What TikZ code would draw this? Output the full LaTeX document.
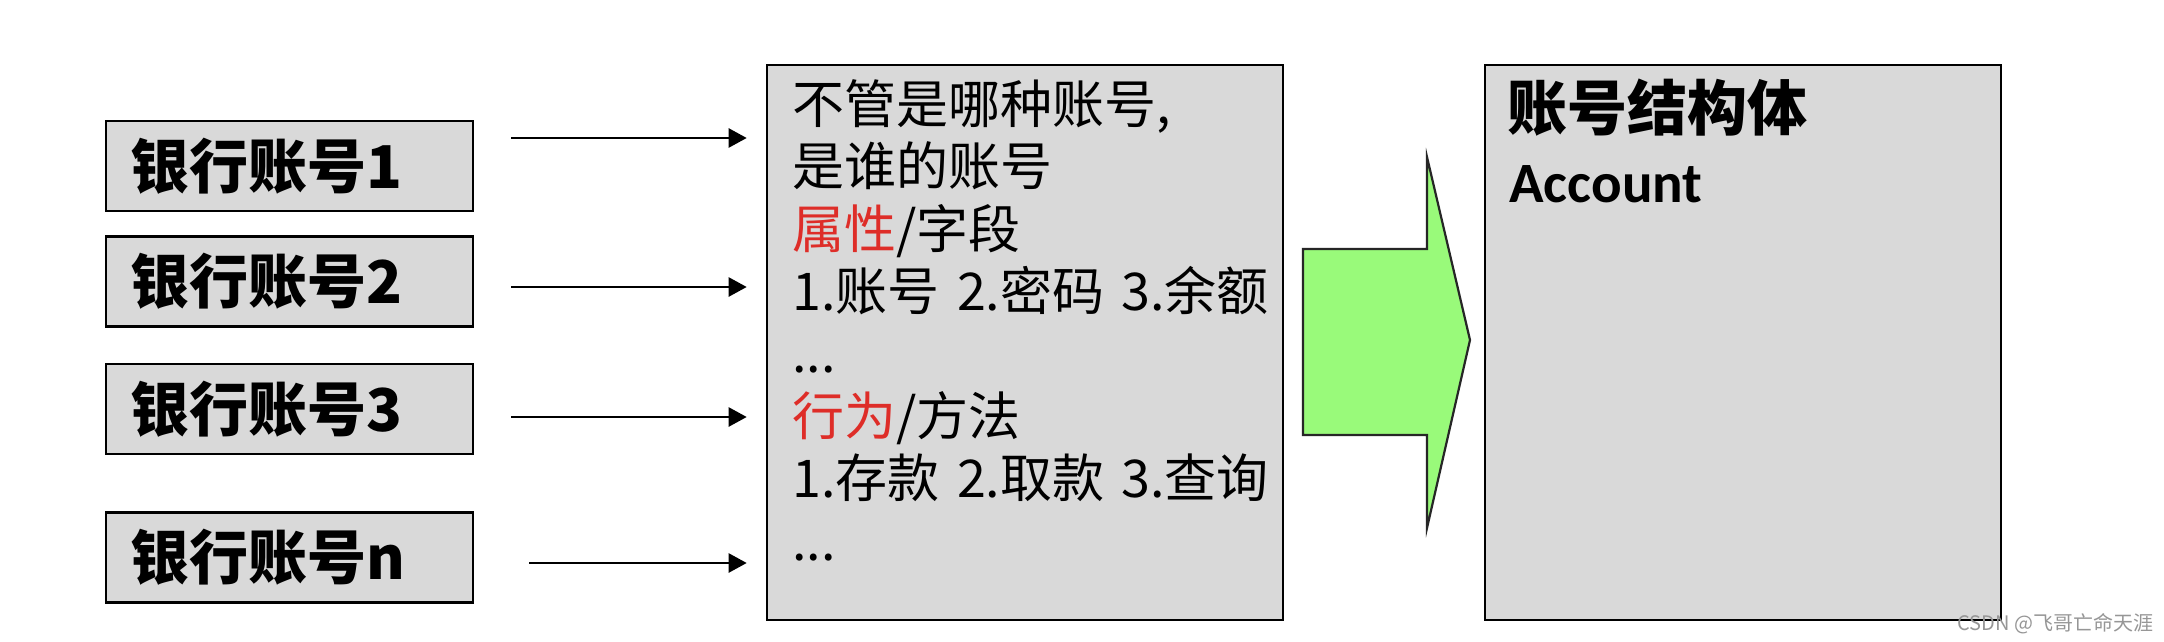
\documentclass[tikz,border=0pt]{standalone}
\usepackage{fontspec}
\setmainfont{Liberation Sans}
\newfontfamily\cjk{Noto Sans CJK SC}
\newfontfamily\cali{Carlito}
\usetikzlibrary{arrows.meta}
\definecolor{boxgray}{RGB}{217,217,217}
\definecolor{accred}{RGB}{222,45,40}
\definecolor{arrowgreen}{RGB}{153,250,122}
\definecolor{markgray}{RGB}{150,150,150}
\tikzset{
  acctbox/.style={draw=black, line width=1.3pt, fill=boxgray,
    minimum width=183.5pt, minimum height=45pt, inner xsep=12pt,
    text width=159.5pt, align=left,
    font=\cjk\bfseries\fontsize{29.5}{32}\selectfont},
  bigbox/.style={draw=black, line width=1.3pt, fill=boxgray,
    minimum width=258pt, minimum height=277.5pt},
  conn/.style={line width=1.2pt, -{Triangle[length=9pt,width=9.5pt]}},
  bigarrow/.style={draw=black!85, line width=1.1pt, fill=arrowgreen, line join=miter}
}
\begin{document}
\begin{tikzpicture}[x=0.5pt,y=-0.5pt]
\useasboundingbox[fill=white] (0,0) rectangle (2164,642);

% account boxes
\node[acctbox] (b1) at (289.5,166) {银行账号1};
\node[acctbox] (b2) at (289.5,281.5) {银行账号2};
\node[acctbox] (b3) at (289.5,409) {银行账号3};
\node[acctbox] (bn) at (289.5,557.5) {银行账号n};

% middle box
\node[bigbox] (mid) at (1025,342.5) {};
\node[anchor=north west, inner sep=0pt, text width=245pt, align=left,
      font=\cjk\fontsize{26}{31.2}\selectfont] (midtext) at (792,79)
  {不管是哪种账号,\\
   是谁的账号\\
   \textcolor{accred}{属性}/字段\\
   1.账号 2.密码 3.余额\\
   ...\\
   \textcolor{accred}{行为}/方法\\
   1.存款 2.取款 3.查询\\
   ...};

% right box
\node[bigbox] (res) at (1743,342.5) {};
\node[anchor=base west, inner sep=0pt, font=\cjk\bfseries\fontsize{30}{32}\selectfont]
  (restitle) at (1507,131) {账号结构体};
\node[anchor=base west, inner sep=0pt, font=\cali\bfseries\fontsize{28.5}{32}\selectfont]
  (resname) at (1509,203) {Account};

% connectors
\coordinate (s1) at (511,138);
\coordinate (s2) at (511,287);
\coordinate (s3) at (511,417);
\coordinate (sn) at (529,563);
\draw[conn, shorten >=9.5pt] (s1) -- (s1 -| mid.west);
\draw[conn, shorten >=9.5pt] (s2) -- (s2 -| mid.west);
\draw[conn, shorten >=9.5pt] (s3) -- (s3 -| mid.west);
\draw[conn, shorten >=9.5pt] (sn) -- (sn -| mid.west);

% big green arrow
\draw[bigarrow] (1303,249) -- (1427,249) -- (1427,157) -- (1470,340)
  -- (1427,528) -- (1427,435) -- (1303,435) -- cycle;

% watermark
\node[anchor=base west, inner sep=0pt, text=markgray, font=\cjk\fontsize{10}{12}\selectfont]
  (mark) at (1957,630) {CSDN @飞哥亡命天涯};
\end{tikzpicture}
\end{document}
